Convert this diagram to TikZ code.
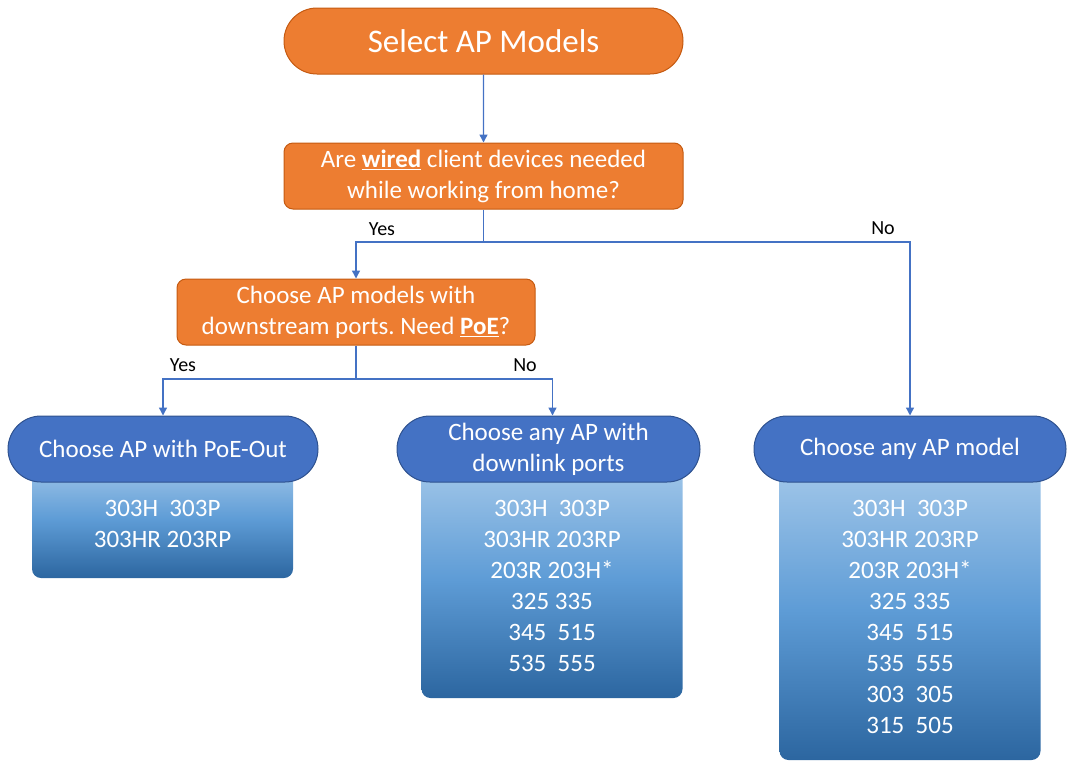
\documentclass[tikz,border=0pt]{standalone}
\usepackage{fontspec}
\setmainfont{Carlito}
\frenchspacing
\usetikzlibrary{arrows.meta,shapes.misc}
\definecolor{orfill}{HTML}{ED7D31}
\definecolor{ordraw}{HTML}{C55A11}
\definecolor{blfill}{HTML}{4472C4}
\definecolor{bldraw}{HTML}{2F528F}
\definecolor{ln}{HTML}{4472C4}
\definecolor{gtop}{HTML}{A5C9EA}
\definecolor{gmid}{HTML}{5E9CD6}
\definecolor{gbot}{HTML}{2C66A0}
\begin{document}
\begin{tikzpicture}[x=1pt,y=-1pt,
  term/.style={rounded rectangle, fill=orfill, draw=ordraw, line width=1pt, text=white,
    minimum width=399pt, minimum height=66pt, inner sep=0pt, font=\fontsize{33}{40}\selectfont},
  decision/.style={rectangle, rounded corners=9pt, fill=orfill, draw=ordraw, line width=1pt,
    text=white, align=center, inner sep=0pt, minimum height=66pt, font=\fontsize{25}{31}\selectfont},
  head/.style={rounded rectangle, fill=blfill, draw=bldraw, line width=1pt, text=white,
    align=center, minimum height=66pt, inner sep=0pt, font=\fontsize{25}{31}\selectfont},
  listbox/.style={rectangle, rounded corners=9pt, draw=none, minimum width=261pt, inner sep=0pt,
    top color=gtop, bottom color=gbot, middle color=gmid},
  listtext/.style={text=white, align=center, inner sep=0pt, font=\fontsize{25}{31}\selectfont},
  flow/.style={draw=ln, line width=1.4pt, -{Triangle[width=8pt,length=8pt]}},
  lbl/.style={inner sep=0pt, font=\fontsize{20}{24}\selectfont}
]
\useasboundingbox (0,0) rectangle (1067,761);

% list boxes (behind headings)
\node[listbox, minimum height=118pt] (l1) at (162.5,519) {};
\node[listbox, minimum height=238pt] (l2) at (552,579) {};
\node[listbox, minimum height=300pt] (l3) at (910,610) {};

% nodes
\node[term] (start) at (483.5,41) {Select AP Models};
\node[decision, minimum width=399pt] (q1) at (483.5,176)
  {Are \underline{\textbf{wired}} client devices needed\\while working from home?};
\node[decision, minimum width=358pt] (q2) at (356,312)
  {Choose AP models with\\downstream ports. Need \underline{\textbf{PoE}}?};
\node[head, minimum width=310pt] (h1) at (163,449) {Choose AP with PoE-Out};
\node[head, minimum width=303pt] (h2) at (548.5,449) {Choose any AP with\\downlink ports};
\node[head, minimum width=312pt] (h3) at (910,449) {Choose any AP model};

\node[listtext] (t1) at (162.5,524) {303H\ \ 303P\\303HR 203RP};
\node[listtext] (t2) at (552,585.5) {303H\ \ 303P\\303HR 203RP\\203R 203H*\\325 335\\345\ \ 515\\535\ \ 555};
\node[listtext] (t3) at (910,616.5) {303H\ \ 303P\\303HR 203RP\\203R 203H*\\325 335\\345\ \ 515\\535\ \ 555\\303\ \ 305\\315\ \ 505};

% connectors
\coordinate (j1) at (483.5,242);
\coordinate (j2) at (356,379);
\draw[flow] (start) -- (q1);
\draw[flow] (q1.south) -- (j1) -| (q2.north);
\draw[flow] (j1) -| (h3.north);
\draw[flow] (q2.south) -- (j2) -| (h1.north);
\draw[flow] (j2) -| ([xshift=4pt]h2.north);

% labels
\node[lbl] (y1) at (382,229) {Yes};
\node[lbl] (n1) at (883,228) {No};
\node[lbl] (y2) at (183,365) {Yes};
\node[lbl] (n2) at (525,365) {No};
\end{tikzpicture}
\end{document}
